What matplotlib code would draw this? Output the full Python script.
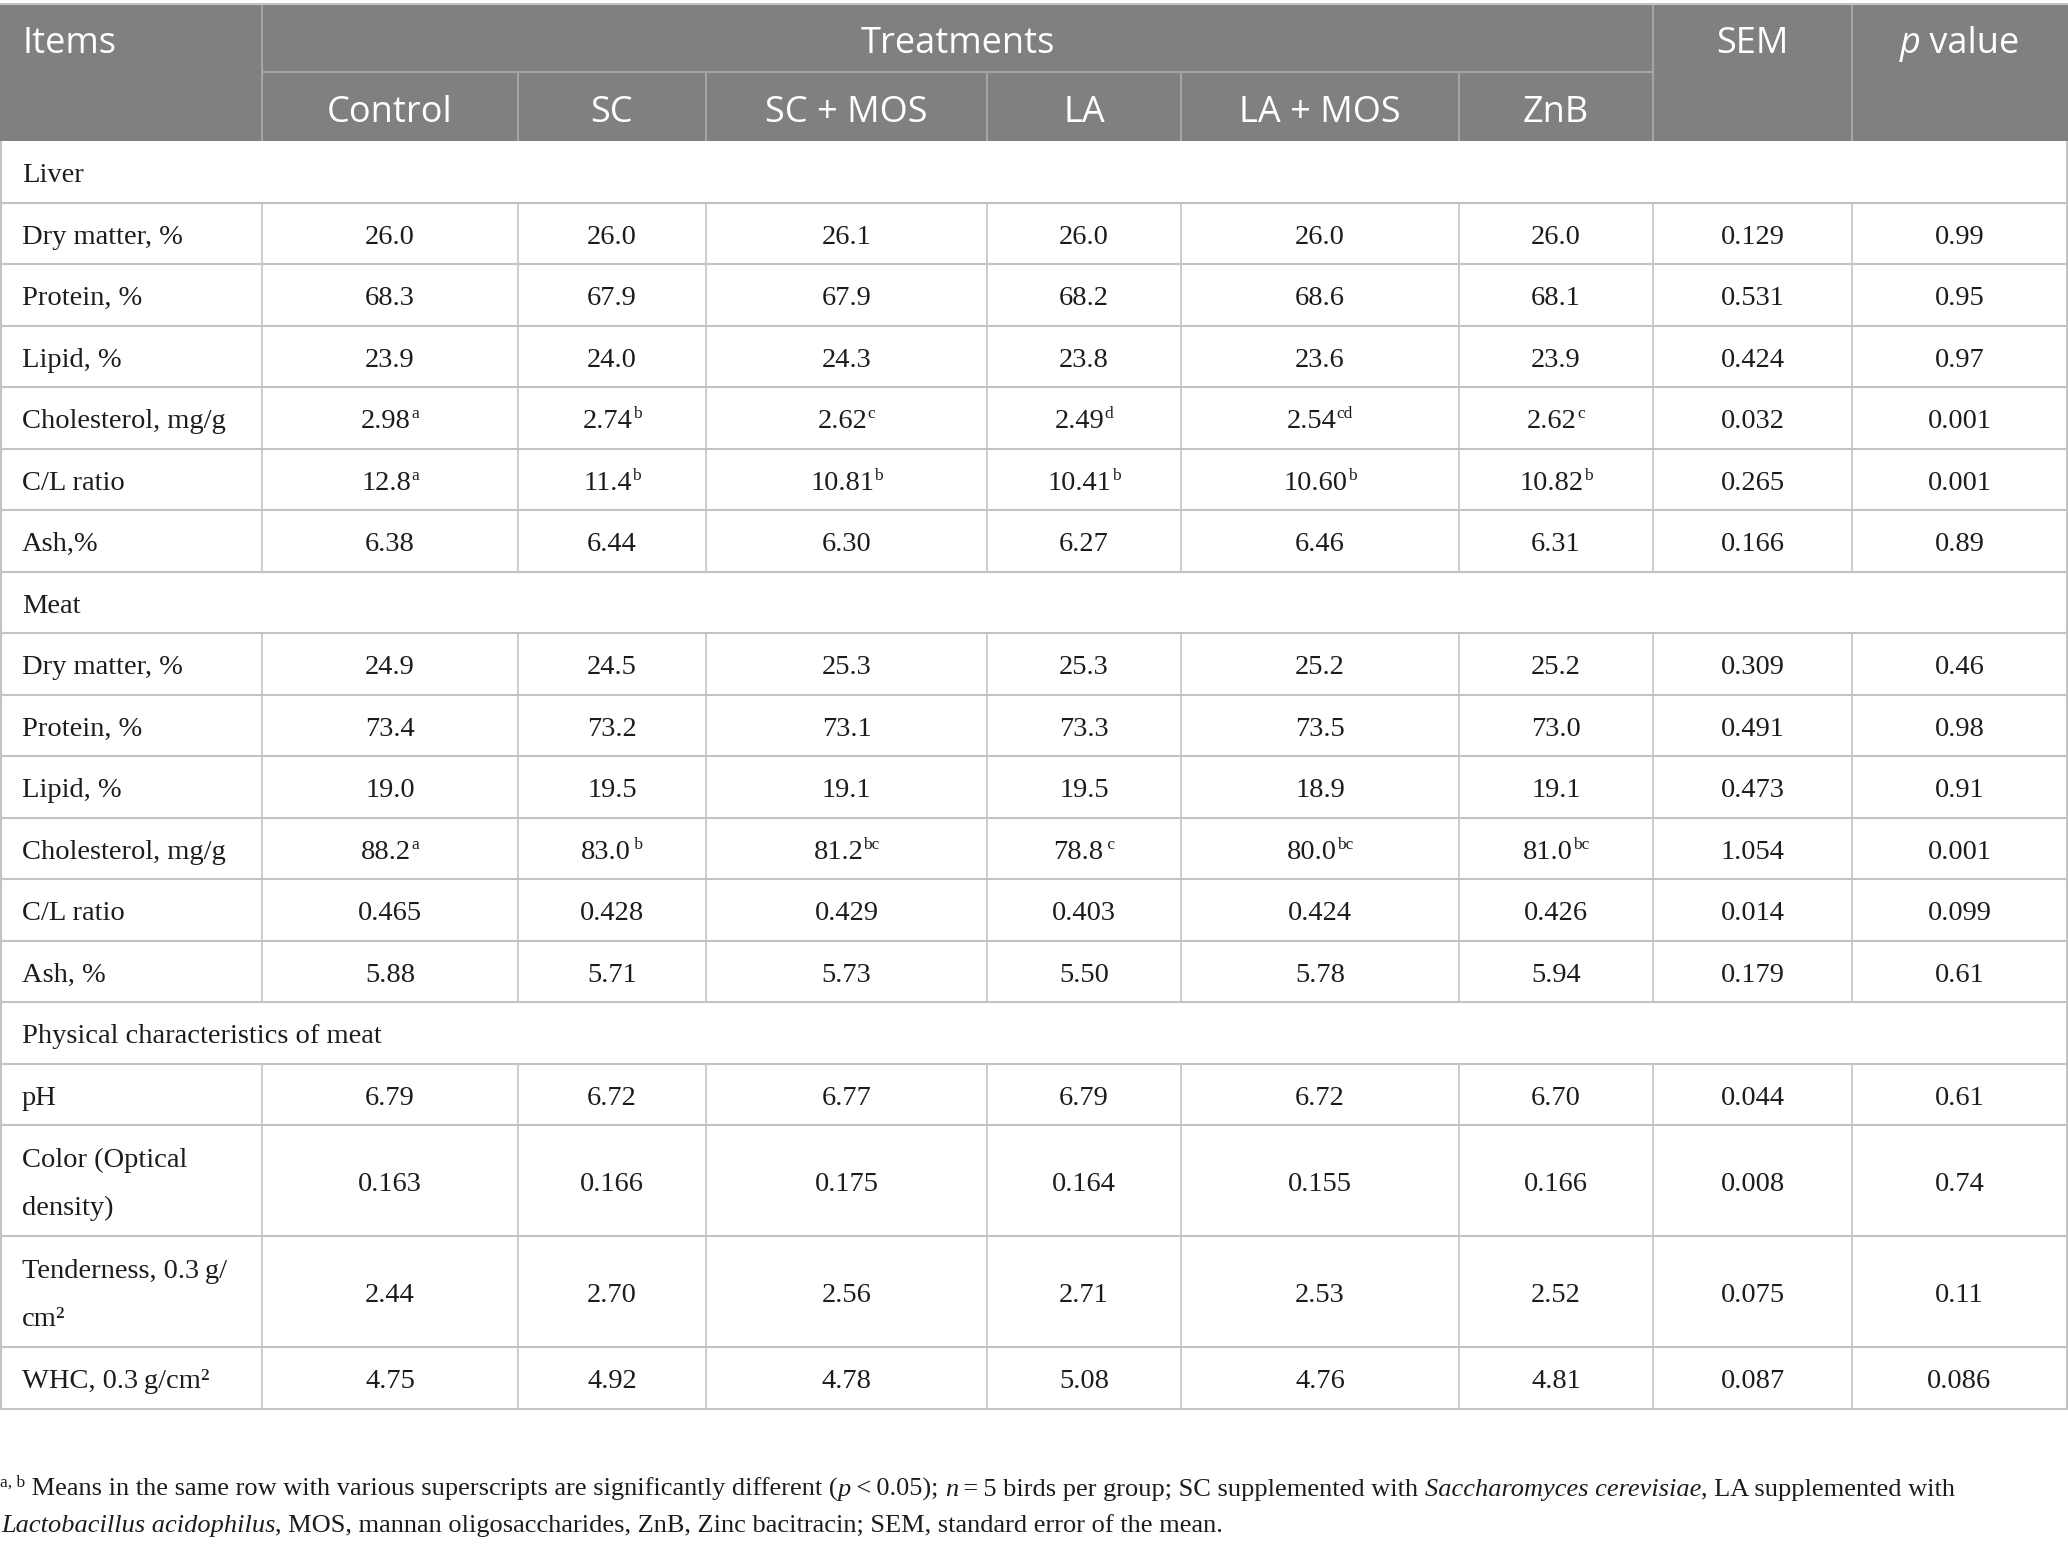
import matplotlib
matplotlib.use('Agg')
import matplotlib.pyplot as plt
from matplotlib.patches import Rectangle

W, H = 2068, 1547

treatments = ['Control', 'SC', 'SC + MOS', 'LA', 'LA + MOS', 'ZnB']
sections = ['Liver', 'Meat', 'Physical characteristics of meat']

liver_items = ['Dry matter, %', 'Protein, %', 'Lipid, %', 'Cholesterol, mg/g', 'C/L ratio', 'Ash,%']
liver_values = [
    ['26.0', '26.0', '26.1', '26.0', '26.0', '26.0'],
    ['68.3', '67.9', '67.9', '68.2', '68.6', '68.1'],
    ['23.9', '24.0', '24.3', '23.8', '23.6', '23.9'],
    ['2.98', '2.74', '2.62', '2.49', '2.54', '2.62'],
    ['12.8', '11.4', '10.81', '10.41', '10.60', '10.82'],
    ['6.38', '6.44', '6.30', '6.27', '6.46', '6.31'],
]
liver_sup = [
    [''] * 6,
    [''] * 6,
    [''] * 6,
    ['a', 'b', 'c', 'd', 'cd', 'c'],
    ['a', 'b', 'b', 'b', 'b', 'b'],
    [''] * 6,
]
liver_sem = ['0.129', '0.531', '0.424', '0.032', '0.265', '0.166']
liver_p = ['0.99', '0.95', '0.97', '0.001', '0.001', '0.89']

meat_items = ['Dry matter, %', 'Protein, %', 'Lipid, %', 'Cholesterol, mg/g', 'C/L ratio', 'Ash, %']
meat_values = [
    ['24.9', '24.5', '25.3', '25.3', '25.2', '25.2'],
    ['73.4', '73.2', '73.1', '73.3', '73.5', '73.0'],
    ['19.0', '19.5', '19.1', '19.5', '18.9', '19.1'],
    ['88.2', '83.0', '81.2', '78.8', '80.0', '81.0'],
    ['0.465', '0.428', '0.429', '0.403', '0.424', '0.426'],
    ['5.88', '5.71', '5.73', '5.50', '5.78', '5.94'],
]
meat_sup = [
    [''] * 6,
    [''] * 6,
    [''] * 6,
    ['a', ' b', 'bc', ' c', 'bc', 'bc'],
    [''] * 6,
    [''] * 6,
]
meat_sem = ['0.309', '0.491', '0.473', '1.054', '0.014', '0.179']
meat_p = ['0.46', '0.98', '0.91', '0.001', '0.099', '0.61']

phys_items = ['pH', 'Color (Optical\ndensity)', 'Tenderness, 0.3\u2009g/\ncm\u00b2', 'WHC, 0.3\u2009g/cm\u00b2']
phys_values = [
    ['6.79', '6.72', '6.77', '6.79', '6.72', '6.70'],
    ['0.163', '0.166', '0.175', '0.164', '0.155', '0.166'],
    ['2.44', '2.70', '2.56', '2.71', '2.53', '2.52'],
    ['4.75', '4.92', '4.78', '5.08', '4.76', '4.81'],
]
phys_sup = [[''] * 6 for _ in range(4)]
phys_sem = ['0.044', '0.008', '0.075', '0.087']
phys_p = ['0.61', '0.74', '0.11', '0.086']

# layout
col_edges = [0, 262, 518, 706, 987, 1181, 1459, 1653, 1852, 2067]
head_top, head_mid, head_bot = 5, 72, 141
row_h, row_h2 = 61.5, 111
head_bg = '#7f807f'
head_line = '#a4a5a4'
grid = '#c3c3c3'
ink = '#1c1c1c'
serif = 'Liberation Serif'
sans = 'Open Sans'
body_fs = 20.5
head_fs = 26
sup_fs = 12.5
foot_fs = 19

fig = plt.figure(figsize=(W / 100, H / 100), dpi=100)
ax = fig.add_axes([0, 0, 1, 1])
ax.set_xlim(0, W)
ax.set_ylim(H, 0)
ax.axis('off')
renderer = fig.canvas.get_renderer()


def runs(x, y, parts, ha='left'):
    # parts: (text, props, raise_px)
    objs = []
    cur = x
    for s, kw, dy in parts:
        t = ax.text(cur, y - dy, s, va='baseline', ha='left', **kw)
        cur += t.get_window_extent(renderer).width
        objs.append(t)
    if ha == 'center':
        shift = (cur - x) / 2
        for t in objs:
            px, py = t.get_position()
            t.set_x(px - shift)


body = dict(family=serif, fontsize=body_fs, color=ink)
supk = dict(family=serif, fontsize=sup_fs, color=ink)

# header
ax.add_patch(Rectangle((0, head_top), W, head_bot - head_top, color=head_bg, lw=0))
ax.hlines(head_top - 1, 0, W, color=grid, lw=1.5)
ax.hlines(head_mid, col_edges[1], col_edges[7], color=head_line, lw=1.5)
for i, x in enumerate(col_edges[1:-1], start=1):
    y0 = head_top if i in (1, 7, 8) else head_mid
    ax.vlines(x, y0, head_bot, color=head_line, lw=1.5)

hk = dict(family=sans, fontsize=head_fs, color='white')
ax.text(22, 53, 'Items', va='baseline', ha='left', **hk)
ax.text((col_edges[1] + col_edges[7]) / 2, 53, 'Treatments', va='baseline', ha='center', **hk)
ax.text((col_edges[7] + col_edges[8]) / 2, 53, 'SEM', va='baseline', ha='center', **hk)
runs((col_edges[8] + col_edges[9]) / 2, 53,
     [('p', dict(hk, style='italic'), 0), (' value', hk, 0)], ha='center')
for j, name in enumerate(treatments):
    ax.text((col_edges[j + 1] + col_edges[j + 2]) / 2, 122, name,
            va='baseline', ha='center', **hk)

# body
blocks = [
    (sections[0], liver_items, liver_values, liver_sup, liver_sem, liver_p),
    (sections[1], meat_items, meat_values, meat_sup, meat_sem, meat_p),
    (sections[2], phys_items, phys_values, phys_sup, phys_sem, phys_p),
]
y = head_bot
for title, items, vals, sups, sems, ps in blocks:
    # section row spans the full width
    ax.text(22, y + row_h / 2 + 10.5, title, va='baseline', ha='left', **body)
    ax.vlines([1, W - 1], y, y + row_h, color=grid, lw=1.5)
    y += row_h
    ax.hlines(y, 0, W, color=grid, lw=1.5)
    for item, v, s, sem, p in zip(items, vals, sups, sems, ps):
        lines = item.split('\n')
        h = row_h if len(lines) == 1 else row_h2
        c = y + h / 2 + 10.5
        if len(lines) == 1:
            ax.text(22, c, item, va='baseline', ha='left', **body)
        else:
            ax.text(22, c - 24, lines[0], va='baseline', ha='left', **body)
            ax.text(22, c + 24, lines[1], va='baseline', ha='left', **body)
        cells = list(zip(v, s)) + [(sem, ''), (p, '')]
        for k, (txt, sp) in enumerate(cells):
            cx = (col_edges[k + 1] + col_edges[k + 2]) / 2
            parts = [(txt, body, 0)]
            if sp:
                parts.append((sp, supk, 10))
            runs(cx, c, parts, ha='center')
        ax.vlines(col_edges[1:-1], y, y + h, color=grid, lw=1.2)
        ax.vlines([1, W - 1], y, y + h, color=grid, lw=1.5)
        y += h
        ax.hlines(y, 0, W, color=grid, lw=1.5)

# footnote
fk = dict(family=serif, fontsize=foot_fs, color=ink)
fi = dict(fk, style='italic')
fs = dict(family=serif, fontsize=12.5, color=ink)
runs(0, 1496, [
    ('a, b', fs, 9),
    (' Means in the same row with various superscripts are significantly different (', fk, 0),
    ('p', fi, 0),
    ('\u2009<\u20090.05); ', fk, 0),
    ('n', fi, 0),
    ('\u2009=\u20095 birds per group; SC supplemented with ', fk, 0),
    ('Saccharomyces cerevisiae', fi, 0),
    (', LA supplemented with', fk, 0),
])
runs(1, 1532, [
    ('Lactobacillus acidophilus', fi, 0),
    (', MOS, mannan oligosaccharides, ZnB, Zinc bacitracin; SEM, standard error of the mean.', fk, 0),
])

fig.savefig('out.png', dpi=100)
